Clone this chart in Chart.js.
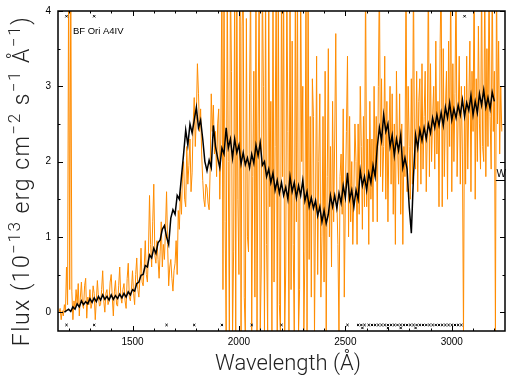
<!DOCTYPE html>
<html>
<head>
<meta charset="utf-8">
<script src="https://cdn.jsdelivr.net/npm/chart.js@4.4.1/dist/chart.umd.min.js"></script>
<style>
  html, body { margin: 0; padding: 0; background: #fff; }
  #wrap { width: 510px; height: 375px; }
</style>
</head>
<body>
<div id="wrap"><canvas id="c" width="510" height="375"></canvas></div>
<script>
// ==================== DATA ====================
// black (averaged) spectrum, 10 A grid
const waveMean = [
  1150,1160,1170,1180,1190,1200,1210,1220,1230,1240,
  1250,1260,1270,1280,1290,1300,1310,1320,1330,1340,
  1350,1360,1370,1380,1390,1400,1410,1420,1430,1440,
  1450,1460,1470,1480,1490,1500,1510,1520,1530,1540,
  1550,1560,1570,1580,1590,1600,1610,1620,1630,1640,
  1650,1660,1670,1680,1690,1700,1710,1720,1730,1740,
  1750,1760,1770,1780,1790,1800,1810,1820,1830,1840,
  1850,1860,1870,1880,1890,1900,1910,1920,1930,1940,
  1950,1960,1970,1980,1990,2000,2010,2020,2030,2040,
  2050,2060,2070,2080,2090,2100,2110,2120,2130,2140,
  2150,2160,2170,2180,2190,2200,2210,2220,2230,2240,
  2250,2260,2270,2280,2290,2300,2310,2320,2330,2340,
  2350,2360,2370,2380,2390,2400,2410,2420,2430,2440,
  2450,2460,2470,2480,2490,2500,2510,2520,2530,2540,
  2550,2560,2570,2580,2590,2600,2610,2620,2630,2640,
  2650,2660,2670,2680,2690,2700,2710,2720,2730,2740,
  2750,2760,2770,2780,2790,2800,2810,2820,2830,2840,
  2850,2860,2870,2880,2890,2900,2910,2920,2930,2940,
  2950,2960,2970,2980,2990,3000,3010,3020,3030,3040,
  3050,3060,3070,3080,3090,3100,3110,3120,3130,3140,
  3150,3160,3170,3180,3190,3200,3210,3220,3230,3240
];
const fluxMean = [
  null,null,null,0.00,0.02,0.04,0.01,0.07,0.04,0.11,
  0.07,0.15,0.10,0.14,0.11,0.18,0.13,0.19,0.14,0.21,
  0.16,0.23,0.17,0.21,0.16,0.23,0.17,0.22,0.18,0.24,
  0.19,0.25,0.20,0.27,0.23,0.30,0.28,0.38,0.40,0.49,
  0.50,0.62,0.60,0.76,0.72,0.85,0.78,0.92,0.96,1.10,
  1.15,1.00,0.90,1.25,1.36,1.30,1.55,1.50,1.80,2.10,
  2.42,2.22,2.50,2.38,2.55,2.72,2.45,2.55,2.30,2.00,
  1.88,2.02,1.92,2.48,2.20,2.05,1.92,2.18,2.10,2.45,
  2.18,2.30,2.05,2.30,2.12,2.22,1.97,2.12,1.96,2.05,
  1.92,2.10,1.98,2.22,2.08,2.25,1.95,2.00,1.80,1.90,
  1.72,1.85,1.62,1.75,1.58,1.72,1.55,1.66,1.50,1.80,
  1.60,1.72,1.52,1.68,1.55,1.75,1.48,1.60,1.40,1.52,
  1.38,1.48,1.28,1.40,1.20,1.35,1.18,1.30,1.55,1.40,
  1.55,1.38,1.58,1.45,1.68,1.52,1.85,1.50,1.62,1.40,
  1.62,1.50,1.88,1.68,1.80,1.62,1.85,1.72,1.95,1.80,
  2.20,2.45,2.28,2.62,2.40,2.50,2.20,2.35,2.08,2.30,
  2.15,2.35,1.92,2.05,1.90,1.40,1.05,1.80,2.35,2.18,
  2.42,2.28,2.45,2.30,2.50,2.38,2.58,2.45,2.62,2.48,
  2.65,2.48,2.72,2.58,2.78,2.55,2.70,2.58,2.75,2.62,
  2.82,2.60,2.78,2.68,2.88,2.62,2.80,2.65,2.90,2.75,
  2.95,2.72,2.85,2.70,2.92,2.80,null,null,null,null
];

// orange (single) spectrum, 5 A grid
const waveRaw = [
  1150,1155,1160,1165,1170,1175,1180,1185,1190,1195,1200,1205,1210,1215,1220,1225,1230,1235,1240,1245,
  1250,1255,1260,1265,1270,1275,1280,1285,1290,1295,1300,1305,1310,1315,1320,1325,1330,1335,1340,1345,
  1350,1355,1360,1365,1370,1375,1380,1385,1390,1395,1400,1405,1410,1415,1420,1425,1430,1435,1440,1445,
  1450,1455,1460,1465,1470,1475,1480,1485,1490,1495,1500,1505,1510,1515,1520,1525,1530,1535,1540,1545,
  1550,1555,1560,1565,1570,1575,1580,1585,1590,1595,1600,1605,1610,1615,1620,1625,1630,1635,1640,1645,
  1650,1655,1660,1665,1670,1675,1680,1685,1690,1695,1700,1705,1710,1715,1720,1725,1730,1735,1740,1745,
  1750,1755,1760,1765,1770,1775,1780,1785,1790,1795,1800,1805,1810,1815,1820,1825,1830,1835,1840,1845,
  1850,1855,1860,1865,1870,1875,1880,1885,1890,1895,1900,1905,1910,1915,1920,1925,1930,1935,1940,1945,
  1950,1955,1960,1965,1970,1975,1980,1985,1990,1995,2000,2005,2010,2015,2020,2025,2030,2035,2040,2045,
  2050,2055,2060,2065,2070,2075,2080,2085,2090,2095,2100,2105,2110,2115,2120,2125,2130,2135,2140,2145,
  2150,2155,2160,2165,2170,2175,2180,2185,2190,2195,2200,2205,2210,2215,2220,2225,2230,2235,2240,2245,
  2250,2255,2260,2265,2270,2275,2280,2285,2290,2295,2300,2305,2310,2315,2320,2325,2330,2335,2340,2345,
  2350,2355,2360,2365,2370,2375,2380,2385,2390,2395,2400,2405,2410,2415,2420,2425,2430,2435,2440,2445,
  2450,2455,2460,2465,2470,2475,2480,2485,2490,2495,2500,2505,2510,2515,2520,2525,2530,2535,2540,2545,
  2550,2555,2560,2565,2570,2575,2580,2585,2590,2595,2600,2605,2610,2615,2620,2625,2630,2635,2640,2645,
  2650,2655,2660,2665,2670,2675,2680,2685,2690,2695,2700,2705,2710,2715,2720,2725,2730,2735,2740,2745,
  2750,2755,2760,2765,2770,2775,2780,2785,2790,2795,2800,2805,2810,2815,2820,2825,2830,2835,2840,2845,
  2850,2855,2860,2865,2870,2875,2880,2885,2890,2895,2900,2905,2910,2915,2920,2925,2930,2935,2940,2945,
  2950,2955,2960,2965,2970,2975,2980,2985,2990,2995,3000,3005,3010,3015,3020,3025,3030,3035,3040,3045,
  3050,3055,3060,3065,3070,3075,3080,3085,3090,3095,3100,3105,3110,3115,3120,3125,3130,3135,3140,3145,
  3150,3155,3160,3165,3170,3175,3180,3185,3190,3195,3200,3205,3210,3215,3220,3225,3230,3235,3240,3245
];
const fluxRaw = [
  null,0.00,0.05,-0.10,0.02,-0.05,0.10,0.00,0.60,0.10,4.60,0.30,4.60,0.28,-0.10,0.15,0.05,0.30,0.10,0.38,
  -0.05,0.20,0.40,0.10,0.05,0.35,0.45,-0.08,0.20,0.10,0.30,0.05,0.12,0.35,0.25,-0.10,0.15,0.42,0.20,0.08,
  0.10,0.30,0.55,0.15,0.00,0.25,0.30,0.10,0.15,0.40,0.50,0.20,-0.05,0.28,0.42,0.10,0.08,0.35,0.60,0.20,
  0.12,0.30,0.38,0.15,0.05,0.45,0.65,0.20,0.15,0.30,0.55,0.25,0.10,0.50,0.72,0.30,0.20,0.45,0.85,0.40,
  0.35,0.60,0.95,0.50,0.40,0.80,1.55,0.90,0.60,1.20,1.70,0.75,0.65,0.95,0.70,0.45,0.80,1.20,0.60,0.90,
  0.70,1.10,1.60,0.90,0.35,0.60,0.70,0.45,0.28,0.55,0.65,0.95,0.50,1.35,1.10,1.60,1.30,1.85,2.00,1.50,
  1.40,2.20,1.70,1.95,2.30,1.60,1.85,2.50,2.85,2.20,2.60,3.30,2.90,2.40,2.70,2.10,1.75,1.50,1.40,1.70,
  1.65,1.45,1.36,1.90,2.90,2.40,2.75,2.10,2.40,1.80,2.50,2.70,1.50,2.30,4.50,0.30,4.50,1.20,-0.30,4.50,
  2.00,-0.30,4.50,3.20,-0.30,0.80,4.50,-0.30,4.50,1.50,0.50,4.50,-0.30,3.80,4.50,0.20,-0.30,3.90,1.00,0.80,
  2.90,4.50,-0.30,1.80,3.20,0.20,4.50,-0.30,2.50,4.50,-0.30,0.60,4.50,3.00,-0.30,4.50,0.90,-0.30,4.50,1.40,
  2.80,-0.30,4.50,0.40,2.20,4.50,-0.30,4.50,0.10,-0.30,4.50,1.80,4.50,-0.30,0.60,4.50,2.40,-0.30,4.50,0.30,
  3.60,0.90,-0.30,4.50,1.20,4.50,-0.30,0.30,4.50,2.00,3.00,-0.30,0.80,4.50,-0.30,4.50,0.70,2.60,0.20,3.10,
  2.60,-0.30,1.50,3.40,0.50,2.00,2.90,0.20,1.00,2.60,0.40,3.20,-0.30,1.80,3.50,1.00,2.20,0.60,2.80,1.20,
  2.30,3.70,1.50,0.90,-0.30,1.80,2.10,1.30,2.70,0.20,1.50,2.40,3.40,1.00,2.60,1.20,2.00,0.90,1.60,2.50,
  2.00,0.90,2.50,1.30,3.00,2.20,1.10,2.60,1.40,4.50,1.40,2.30,0.90,2.80,1.50,2.30,1.20,3.00,1.80,2.60,
  1.20,3.00,4.50,1.80,3.10,1.60,2.20,3.40,1.50,2.80,1.20,2.40,3.00,1.70,2.90,1.30,2.50,0.90,3.20,2.20,
  1.70,2.90,1.30,2.50,0.90,2.20,1.80,4.50,1.60,3.00,2.20,1.50,3.10,1.70,4.50,2.00,1.90,3.20,1.60,2.80,
  3.10,1.70,3.30,1.90,2.60,3.20,1.60,2.40,4.50,1.80,3.30,2.00,2.60,3.00,1.90,3.60,2.10,2.80,1.40,3.50,
  4.50,1.40,3.50,1.80,2.70,3.20,1.50,3.60,2.20,4.50,1.60,3.30,2.00,2.90,4.50,1.80,2.60,3.40,1.70,3.00,
  2.10,-0.30,3.00,1.70,3.40,1.90,2.80,3.60,1.60,3.20,2.40,4.50,1.50,3.10,2.00,3.80,2.50,1.90,4.50,2.20,
  2.00,4.50,1.80,3.50,2.20,4.50,2.60,1.90,4.50,2.40,3.20,-0.30,4.50,2.50,3.60,2.10,3.00,2.40,null,null
];

// flagged points (small crosses along the frame)
const flagWave = [1190,1320,1660,1790,1920,2060,2200,2510,2560,2575,2590,2610,2625,2640,2655,2670,2685,2700,2715,2730,2745,2760,2775,2790,2805,2820,2835,2850,2865,2880,2895,2910,2925,2940,2955,2970,2985,3000,3015,3030,3045,2580,2700,2760,2830,1190,1320,3060];
const flagFlux = [-0.17,-0.17,-0.17,-0.17,-0.17,-0.17,-0.17,-0.17,-0.17,-0.17,-0.17,-0.17,-0.17,-0.17,-0.17,-0.17,-0.17,-0.17,-0.17,-0.17,-0.17,-0.17,-0.17,-0.17,-0.17,-0.17,-0.17,-0.17,-0.17,-0.17,-0.17,-0.17,-0.17,-0.17,-0.17,-0.17,-0.17,-0.17,-0.17,-0.17,-0.17,-0.21,-0.21,-0.21,-0.21,3.93,3.93,3.93];

// axes
const xRange = [1150, 3250];
const yRange = [-0.25, 4];
const xMajor = [1500, 2000, 2500, 3000];
const xMinor = [1200,1300,1400,1600,1700,1800,1900,2100,2200,2300,2400,2600,2700,2800,2900,3100,3200];
const yMajor = [0, 1, 2, 3, 4];
const yMinor = [0.5, 1.5, 2.5, 3.5];

const starLabel = 'BF Ori A4IV';
const sideMark = 'W';

// ==================== CHART ====================
const pairs = (xs, ys) => xs.map((v, i) => ({ x: v, y: ys[i] }));

const framePlugin = {
  id: 'frame',
  afterDatasetsDraw(chart) {
    const { ctx, chartArea: a, scales: { x, y } } = chart;
    ctx.save();
    ctx.strokeStyle = '#000';
    ctx.lineWidth = 1.5;
    ctx.strokeRect(a.left, a.top, a.right - a.left, a.bottom - a.top);

    ctx.lineWidth = 1;
    ctx.beginPath();
    const tx = (v, len) => {
      const p = Math.round(x.getPixelForValue(v)) + 0.5;
      ctx.moveTo(p, a.bottom); ctx.lineTo(p, a.bottom - len);
      ctx.moveTo(p, a.top); ctx.lineTo(p, a.top + len);
    };
    const ty = (v, len) => {
      const p = Math.round(y.getPixelForValue(v)) + 0.5;
      ctx.moveTo(a.left, p); ctx.lineTo(a.left + len, p);
      ctx.moveTo(a.right, p); ctx.lineTo(a.right - len, p);
    };
    xMajor.forEach(v => tx(v, 5));
    xMinor.forEach(v => tx(v, 2.5));
    yMajor.forEach(v => ty(v, 5));
    yMinor.forEach(v => ty(v, 2.5));
    ctx.stroke();

    // star name
    ctx.fillStyle = '#000';
    ctx.font = '9.5px "Liberation Sans", sans-serif';
    ctx.textBaseline = 'alphabetic';
    ctx.textAlign = 'left';
    ctx.fillText(starLabel, x.getPixelForValue(1220), y.getPixelForValue(3.7));

    // W mark on the right edge
    ctx.font = '10px "Liberation Sans", sans-serif';
    ctx.textAlign = 'center';
    ctx.fillText(sideMark, x.getPixelForValue(3232), y.getPixelForValue(1.79));
    ctx.beginPath();
    ctx.lineWidth = 1;
    const wy = Math.round(y.getPixelForValue(1.75)) + 0.5;
    ctx.moveTo(x.getPixelForValue(3207), wy);
    ctx.lineTo(a.right, wy);
    ctx.stroke();

    // axis titles
    ctx.fillStyle = '#222';
    ctx.font = '300 22px Roboto, "DejaVu Sans", sans-serif';
    ctx.textAlign = 'center';
    ctx.fillText('Wavelength (\u00C5)', 288, 370);

    const big = '300 23px Roboto, "DejaVu Sans", sans-serif';
    const small = '300 17px Roboto, "DejaVu Sans", sans-serif';
    const parts = [['Flux (10', 0], ['\u221213', 1], [' erg cm', 0], ['\u22122', 1], [' s', 0], ['\u22121', 1], [' \u00C5', 0], ['\u22121', 1], [')', 0]];
    ctx.letterSpacing = '1.5px';
    let total = 0;
    parts.forEach(p => { ctx.font = p[1] ? small : big; total += ctx.measureText(p[0]).width; });
    ctx.translate(22, 181);
    ctx.rotate(-Math.PI / 2);
    ctx.textAlign = 'left';
    let cx = -total / 2;
    parts.forEach(p => {
      ctx.font = p[1] ? small : big;
      ctx.fillText(p[0], cx, p[1] ? -2 : 7);
      cx += ctx.measureText(p[0]).width;
    });
    ctx.restore();
  }
};

new Chart(document.getElementById('c'), {
  type: 'line',
  data: {
    datasets: [
      {
        label: 'mean',
        data: pairs(waveMean, fluxMean),
        borderColor: '#000',
        borderWidth: 1.5,
        pointRadius: 0,
        tension: 0,
        spanGaps: false
      },
      {
        type: 'scatter',
        label: 'flags',
        data: pairs(flagWave, flagFlux),
        pointStyle: 'crossRot',
        pointRadius: 1.6,
        borderColor: '#000',
        borderWidth: 1,
        showLine: false,
        clip: false
      },
      {
        label: 'single',
        data: pairs(waveRaw, fluxRaw),
        borderColor: 'rgb(255,140,0)',
        borderWidth: 1,
        pointRadius: 0,
        tension: 0,
        spanGaps: false
      }
    ]
  },
  options: {
    responsive: false,
    animation: false,
    events: [],
    layout: { padding: { left: 0, right: 2, top: 4, bottom: 0 } },
    plugins: { legend: { display: false }, tooltip: { enabled: false } },
    scales: {
      x: {
        type: 'linear',
        min: xRange[0],
        max: xRange[1],
        afterBuildTicks: s => { s.ticks = xMajor.map(v => ({ value: v })); },
        afterFit: s => { s.height = 44; },
        grid: { display: false, drawTicks: false },
        border: { display: false },
        ticks: {
          autoSkip: false,
          maxRotation: 0,
          padding: 5,
          color: '#000',
          callback: v => String(v),
          font: { family: '"Liberation Sans", sans-serif', size: 10 }
        }
      },
      y: {
        type: 'linear',
        min: yRange[0],
        max: yRange[1],
        afterBuildTicks: s => { s.ticks = yMajor.map(v => ({ value: v })); },
        afterFit: s => { s.width = 58; },
        grid: { display: false, drawTicks: false },
        border: { display: false },
        ticks: {
          padding: 7,
          color: '#000',
          callback: v => String(v),
          font: { family: '"Liberation Sans", sans-serif', size: 10, lineHeight: 0.8 }
        }
      }
    }
  },
  plugins: [framePlugin]
});
</script>
</body>
</html>
